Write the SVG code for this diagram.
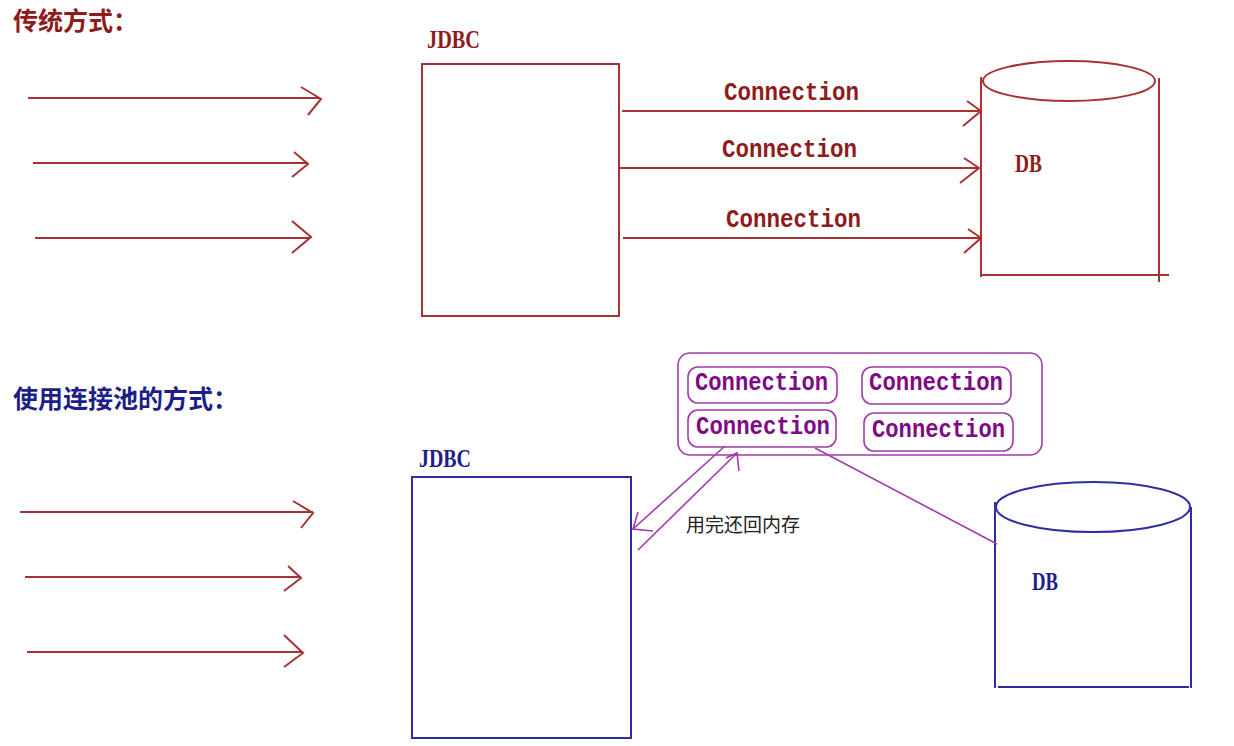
<svg xmlns="http://www.w3.org/2000/svg" width="1234" height="746" viewBox="0 0 1234 746">
<style>
.red{stroke:#A83232;stroke-width:2;fill:none}
.blue{stroke:#2E2E9E;stroke-width:2;fill:none}
.pur{stroke:#A03CAA;stroke-width:1.6;fill:none}
.tred{fill:#8E1C1C}
.tblue{fill:#1E1E88}
.tpur{fill:#7E0A86}
.cjk{font-family:"Noto Sans CJK SC",sans-serif;font-weight:bold;font-size:25px}
.mono{font-family:"Liberation Mono",monospace;font-weight:bold;font-size:26px}
.ser{font-family:"Liberation Serif",serif;font-weight:bold;font-size:26px}
</style>
<rect width="1234" height="746" fill="#fff"/>

<!-- Top section -->
<g id="title-traditional"><text class="cjk tred" x="13" y="30">传统方式：</text></g>

<g id="jdbc-top">
<text class="ser tred" x="427" y="48" textLength="53" lengthAdjust="spacingAndGlyphs">JDBC</text>
<rect class="red" x="422" y="64" width="197" height="252"/>
</g>

<g id="db-top">
<ellipse class="red" cx="1069" cy="81" rx="86" ry="20"/>
<line class="red" x1="981" y1="77" x2="981" y2="277"/>
<line class="red" x1="1159" y1="78" x2="1159" y2="282"/>
<line class="red" x1="981" y1="275" x2="1169" y2="275"/>
<text class="ser tred" x="1015" y="172" textLength="27" lengthAdjust="spacingAndGlyphs">DB</text>
</g>

<g id="connectors-top">
<polyline class="red" points="28,98 320,98"/>
<polyline class="red" points="301,87 321,99 308,115"/>
<polyline class="red" points="33,163 308,163"/>
<polyline class="red" points="294,152 308,164 292,177"/>
<polyline class="red" points="35,238 311,238"/>
<polyline class="red" points="292,221 311,237 292,253"/>

<polyline class="red" points="622,111 981,111"/>
<polyline class="red" points="967,101 981,111 963,126"/>
<polyline class="red" points="619,168 979,168"/>
<polyline class="red" points="964,158 979,168 960,183"/>
<polyline class="red" points="623,238 981,238"/>
<polyline class="red" points="968,229 981,238 964,253"/>
</g>
<g id="labels-top">
<text class="mono tred" x="724" y="100" textLength="135" lengthAdjust="spacingAndGlyphs">Connection</text>
<text class="mono tred" x="722" y="157" textLength="135" lengthAdjust="spacingAndGlyphs">Connection</text>
<text class="mono tred" x="726" y="227" textLength="135" lengthAdjust="spacingAndGlyphs">Connection</text>
</g>

<!-- Bottom section -->
<g id="title-pool"><text class="cjk tblue" x="13" y="408">使用连接池的方式：</text></g>

<g id="jdbc-bottom">
<text class="ser tblue" x="419" y="467" textLength="52" lengthAdjust="spacingAndGlyphs">JDBC</text>
<rect class="blue" x="412" y="477" width="219" height="261"/>
</g>

<g id="pool">
<rect class="pur" x="678" y="353" width="364" height="102" rx="12"/>
<rect class="pur" x="688" y="367" width="149" height="36" rx="10"/>
<rect class="pur" x="862" y="367" width="149" height="37" rx="10"/>
<rect class="pur" x="688" y="410" width="148" height="37" rx="10"/>
<rect class="pur" x="864" y="413" width="149" height="38" rx="10"/>
<text class="mono tpur" x="695" y="390" textLength="133" lengthAdjust="spacingAndGlyphs">Connection</text>
<text class="mono tpur" x="869" y="390" textLength="134" lengthAdjust="spacingAndGlyphs">Connection</text>
<text class="mono tpur" x="696" y="434" textLength="134" lengthAdjust="spacingAndGlyphs">Connection</text>
<text class="mono tpur" x="872" y="437" textLength="133" lengthAdjust="spacingAndGlyphs">Connection</text>
</g>

<g id="db-bottom">
<ellipse class="blue" cx="1093" cy="507" rx="97" ry="25"/>
<line class="blue" x1="995" y1="502" x2="995" y2="688"/>
<line class="blue" x1="1191" y1="507" x2="1191" y2="688"/>
<line class="blue" x1="998" y1="687" x2="1189" y2="687"/>
<text class="ser tblue" x="1032" y="590" textLength="26" lengthAdjust="spacingAndGlyphs">DB</text>
</g>

<g id="connectors-bottom">
<polyline class="red" points="20,512 313,512"/>
<polyline class="red" points="293,501 313,513 301,528"/>
<polyline class="red" points="25,577 301,577"/>
<polyline class="red" points="288,566 301,578 284,591"/>
<polyline class="red" points="27,652 303,652"/>
<polyline class="red" points="284,635 303,653 284,667"/>

<line class="pur" x1="725" y1="446" x2="633" y2="529"/>
<polyline class="pur" points="638,512 633,529 653,531"/>
<line class="pur" x1="638" y1="550" x2="737" y2="453"/>
<polyline class="pur" points="726,458 737,453 739,471"/>
<line class="pur" x1="815" y1="448" x2="997" y2="544"/>
</g>
<g id="label-return">
<text x="686" y="532" font-family="Noto Sans CJK SC, sans-serif" font-size="19" fill="#222">用完还回内存</text>
</g>
</svg>
